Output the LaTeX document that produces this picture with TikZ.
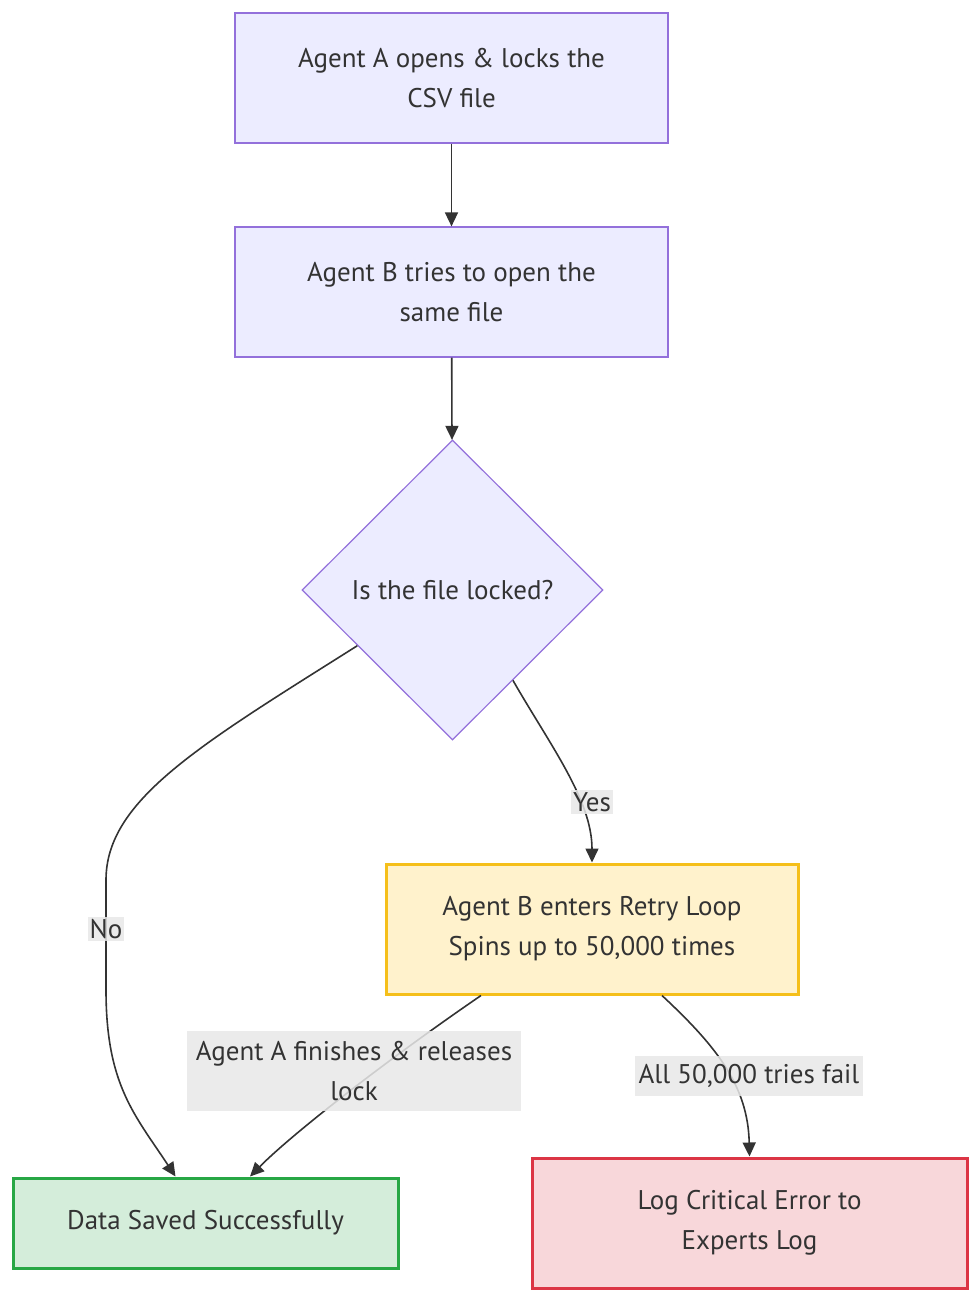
\documentclass[tikz,border=0pt]{standalone}
\usepackage{fontspec}
\setmainfont{PT Sans}
\usetikzlibrary{shapes.geometric,arrows.meta,calc}
\definecolor{txt}{HTML}{333333}
\definecolor{pfill}{HTML}{ECECFF}
\definecolor{pline}{HTML}{9370DB}
\definecolor{yfill}{HTML}{FFF2CC}
\definecolor{yline}{HTML}{F5BF1A}
\definecolor{gfill}{HTML}{D4EDDA}
\definecolor{gline}{HTML}{28A745}
\definecolor{rfill}{HTML}{F8D7DA}
\definecolor{rline}{HTML}{DC3545}
\definecolor{lbl}{HTML}{E8E8E8}
\definecolor{edge}{HTML}{333333}
\tikzset{
  x=1pt,y=-1pt,
  base/.style={text=txt,font=\fontsize{27}{40}\selectfont,align=center,inner sep=0pt},
  procbox/.style={base,rectangle,draw=pline,fill=pfill,line width=1.2pt,minimum width=433pt,minimum height=130pt},
  decide/.style={base,diamond,draw=pline,fill=pfill,line width=1.2pt,minimum width=301pt,minimum height=300pt},
  retrybox/.style={base,rectangle,draw=yline,fill=yfill,line width=3pt,minimum width=412pt,minimum height=130pt},
  okbox/.style={base,rectangle,draw=gline,fill=gfill,line width=3pt,minimum width=385pt,minimum height=90pt},
  errbox/.style={base,rectangle,draw=rline,fill=rfill,line width=3pt,minimum width=435pt,minimum height=130pt},
  conn/.style={draw=edge,line width=1.6pt,-{Triangle[length=14pt,width=13pt]}},
  elabel/.style={base,fill=lbl,fill opacity=0.85,text opacity=1,inner xsep=2pt,inner ysep=2pt}
}
\begin{document}
\begin{tikzpicture}
\useasboundingbox (0,0) rectangle (980,1302);
\node[procbox] (A) at (451.5,78) {Agent A opens \& locks the\\CSV file};
\node[procbox] (B) at (451.5,292) {Agent B tries to open the\\same file};
\node[decide] (D) at (452.5,590) {Is the file locked?};
\node[retrybox] (R) at (592,929) {Agent B enters Retry Loop\\Spins up to 50,000 times};
\node[okbox] (S) at (205.5,1223) {Data Saved Successfully};
\node[errbox] (E) at (749.5,1223) {Log Critical Error to\\Experts Log};

\draw[conn] (A) -- (B);
\draw[conn] (B) -- (D);
\draw[conn] ($(D.south)!0.4!(D.east)$) .. controls (550,745) and (592,800) .. (R.north);
\draw[conn] ($(D.west)!0.37!(D.south)$) .. controls (200,745) and (106,800) .. (106,880) -- (106,990) .. controls (106,1085) and (135,1115) .. ([xshift=-30pt]S.north);
\draw[conn] ([xshift=-111pt]R.south) .. controls (381,1064) and (290,1136) .. ([xshift=44.5pt]S.north);
\draw[conn] ([xshift=70pt]R.south) .. controls (715,1045) and (748,1085) .. (E.north);

\node[elabel] (ly) at (592,802) {Yes};
\node[elabel] (ln) at (106,929) {No};
\node[elabel,minimum width=334pt,minimum height=80pt] (lr) at (354,1071) {Agent A finishes \& releases\\lock};
\node[elabel,minimum width=228pt,minimum height=40pt] (lf) at (749,1076) {All 50,000 tries fail};
\end{tikzpicture}
\end{document}
